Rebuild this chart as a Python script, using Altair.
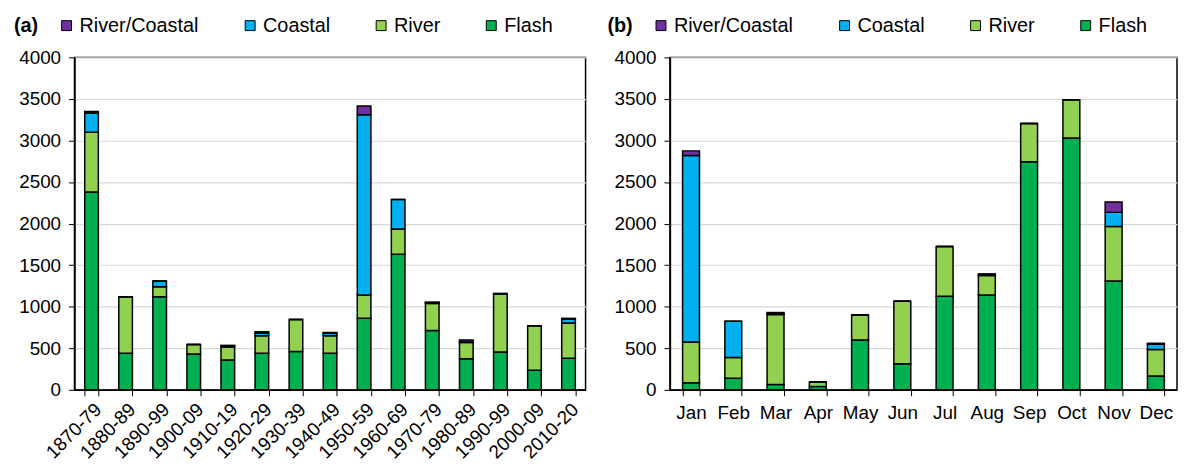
import altair as alt
import pandas as pd

decades = ["1870-79", "1880-89", "1890-99", "1900-09", "1910-19", "1920-29", "1930-39",
           "1940-49", "1950-59", "1960-69", "1970-79", "1980-89", "1990-99", "2000-09", "2010-20"]
flash_a = [2380, 440, 1120, 430, 360, 440, 460, 440, 860, 1630, 715, 375, 455, 235, 380]
river_a = [720, 680, 120, 115, 155, 210, 385, 210, 280, 305, 325, 195, 700, 535, 425]
coastal_a = [230, 0, 70, 0, 15, 30, 0, 30, 2170, 355, 10, 5, 0, 0, 45]
rivcoast_a = [20, 0, 0, 0, 5, 20, 0, 10, 105, 0, 5, 25, 5, 0, 10]

months = ["Jan", "Feb", "Mar", "Apr", "May", "Jun", "Jul", "Aug", "Sep", "Oct", "Nov", "Dec"]
flash_b = [85, 140, 65, 40, 600, 315, 1125, 1140, 2745, 3030, 1310, 165]
river_b = [490, 250, 840, 55, 300, 750, 600, 235, 460, 460, 655, 320]
coastal_b = [2245, 435, 10, 0, 0, 0, 0, 10, 0, 0, 170, 65]
rivcoast_b = [55, 0, 15, 0, 0, 0, 0, 10, 0, 0, 125, 10]

types = ["Flash", "River", "Coastal", "River/Coastal"]
legend_order = ["River/Coastal", "Coastal", "River", "Flash"]
colors = ["#7030A0", "#00B0F0", "#92D050", "#00B050"]


def make_df(cats, series):
    rows = []
    for i, c in enumerate(cats):
        for k, (t, vals) in enumerate(zip(types, series)):
            rows.append({"cat": c, "type": t, "order": k, "value": vals[i]})
    return pd.DataFrame(rows)


df_a = make_df(decades, [flash_a, river_a, coastal_a, rivcoast_a])
df_b = make_df(months, [flash_b, river_b, coastal_b, rivcoast_b])

FONT_SIZE = 19


def panel(df, cats, label, width, label_angle, legend_x):
    x_axis = alt.Axis(
        title=None, labelAngle=label_angle, labelFontSize=FONT_SIZE, labelColor="black",
        tickBand="extent", tickSize=6, tickColor="black", domainColor="black",
        domainWidth=1.5, labelPadding=4 if label_angle else 8, grid=False,
    )
    return alt.Chart(df).mark_bar(stroke="black", strokeWidth=1.5).encode(
        x=alt.X("cat:N", sort=cats, axis=x_axis,
                scale=alt.Scale(paddingInner=0.6, paddingOuter=0.3)),
        y=alt.Y("value:Q", stack="zero",
                scale=alt.Scale(domain=[0, 4000], nice=False),
                axis=alt.Axis(title=None, values=list(range(0, 4001, 500)), format="d",
                              labelFontSize=FONT_SIZE, labelColor="black", tickSize=6,
                              tickColor="black", domainColor="black", domainWidth=1.5,
                              gridColor="#d9d9d9", gridWidth=1.2, labelPadding=8)),
        color=alt.Color("type:N",
                        scale=alt.Scale(domain=legend_order, range=colors),
                        legend=alt.Legend(
                            title=label, orient="none", legendX=legend_x, legendY=-42,
                            direction="horizontal", titleOrient="left",
                            titleFontSize=20, titleFontWeight="bold", titleColor="black",
                            titlePadding=18, labelFontSize=20, labelColor="black",
                            symbolType="square", symbolSize=100, symbolStrokeColor="black",
                            symbolStrokeWidth=1, symbolOpacity=1, columnPadding=41,
                            labelOffset=3)),
        order=alt.Order("order:Q", sort="ascending"),
    ).properties(width=width, height=335)


chart_a = panel(df_a, decades, "(a)", 515, -45, -61)
chart_b = panel(df_b, months, "(b)", 511, 0, -63)

chart = alt.hconcat(chart_a, chart_b, spacing=20).resolve_scale(
    color="independent"
).resolve_legend(color="independent").configure(
    font="Liberation Sans"
).configure_view(stroke="black", strokeWidth=1.5).properties(
    padding={"left": 5, "top": 5, "right": 0, "bottom": 0}
)

chart.save("out.html", embed_options={"renderer": "svg", "actions": False})
